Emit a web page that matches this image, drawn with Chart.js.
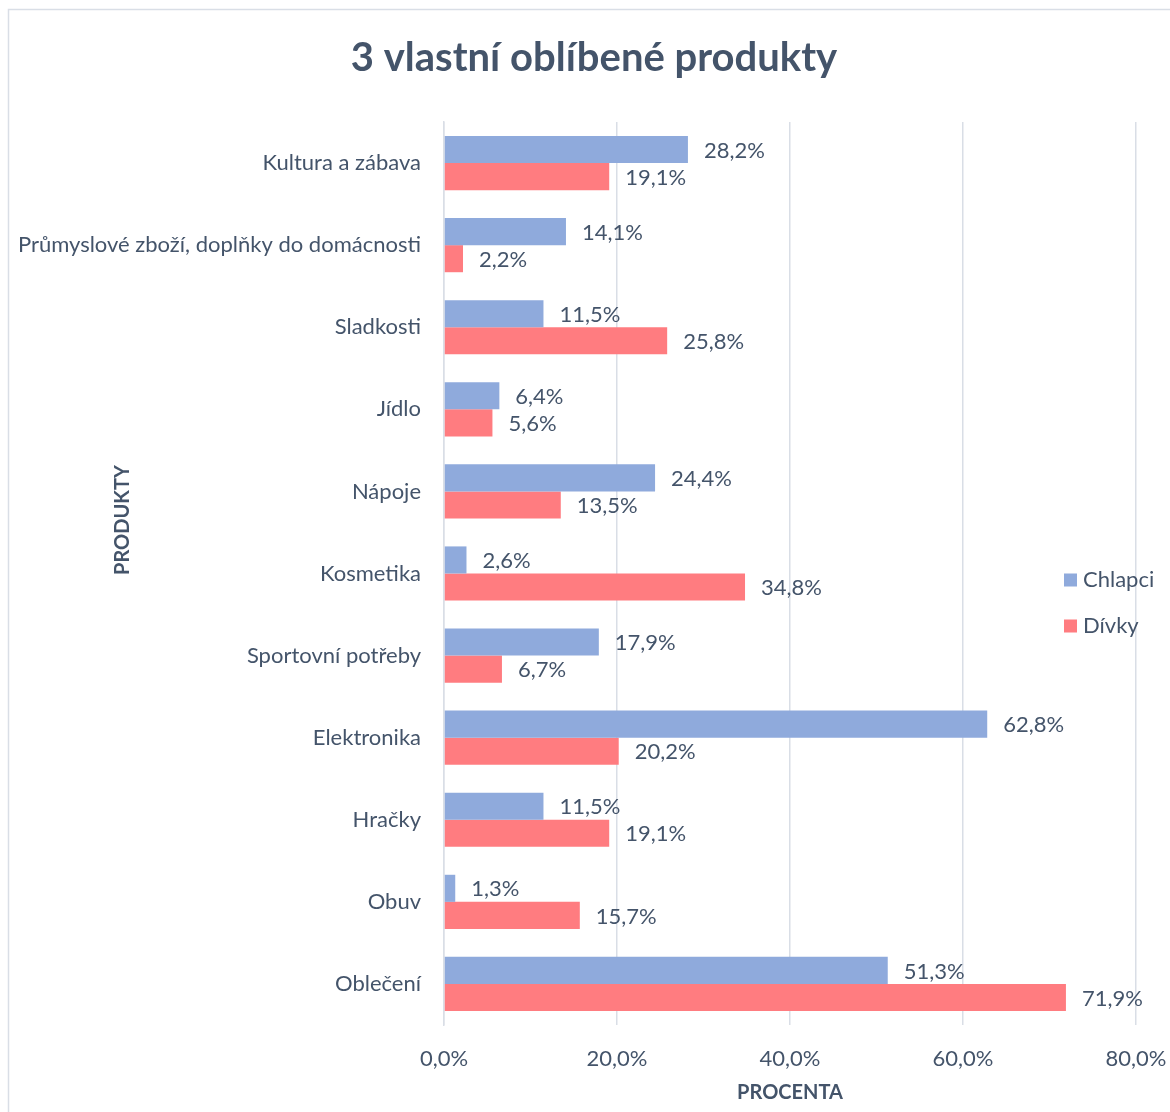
<!DOCTYPE html>
<html>
<head>
<meta charset="utf-8">
<title>3 vlastní oblíbené produkty</title>
<script src="https://cdn.jsdelivr.net/npm/chart.js@4/dist/chart.umd.min.js"></script>
<style>
  html, body { margin: 0; padding: 0; background: #fff; }
  #wrap { width: 1170px; height: 1112px; position: relative; }
</style>
</head>
<body>
<div id="wrap"><canvas id="chart" width="1170" height="1112"></canvas></div>
<script>
// data
const categories = [
  'Kultura a zábava',
  'Průmyslové zboží, doplňky do domácnosti',
  'Sladkosti',
  'Jídlo',
  'Nápoje',
  'Kosmetika',
  'Sportovní potřeby',
  'Elektronika',
  'Hračky',
  'Obuv',
  'Oblečení'
];
const chlapci = [28.2, 14.1, 11.5, 6.4, 24.4, 2.6, 17.9, 62.8, 11.5, 1.3, 51.3];
const divky   = [19.1, 2.2, 25.8, 5.6, 13.5, 34.8, 6.7, 20.2, 19.1, 15.7, 71.9];
const seriesNames = ['Chlapci', 'Dívky'];
const xTicks = [0, 20, 40, 60, 80];

const chartTitle = '3 vlastní oblíbené produkty';
const xTitle = 'PROCENTA';
const yTitle = 'PRODUKTY';

const FONT = 'Lato, "Open Sans", sans-serif';
const TEXT = '#44546a';
const GRID = '#d9dee6';

const fmt = v => v.toFixed(1).replace('.', ',') + '%';

// frame, value labels, y axis title, legend
const extras = {
  id: 'extras',
  beforeDraw(chart) {
    const ctx = chart.ctx;
    ctx.save();
    ctx.fillStyle = '#fff';
    ctx.fillRect(0, 0, chart.width, chart.height);
    ctx.strokeStyle = GRID;
    ctx.lineWidth = 1.5;
    ctx.strokeRect(8.5, 9.5, chart.width + 20, chart.height + 20);
    ctx.restore();
  },
  afterDatasetsDraw(chart) {
    const ctx = chart.ctx;
    ctx.save();
    ctx.font = '22px ' + FONT;
    ctx.fillStyle = TEXT;
    ctx.textAlign = 'left';
    ctx.textBaseline = 'middle';
    chart.data.datasets.forEach((ds, i) => {
      chart.getDatasetMeta(i).data.forEach((el, j) => {
        ctx.fillText(fmt(ds.data[j]), el.x + 16, el.y + 1);
      });
    });
    ctx.restore();
  },
  afterDraw(chart) {
    const ctx = chart.ctx;
    ctx.save();
    ctx.fillStyle = TEXT;
    ctx.font = 'bold 20px ' + FONT;
    ctx.textAlign = 'center';
    ctx.textBaseline = 'middle';
    ctx.translate(123, 520);
    ctx.rotate(-Math.PI / 2);
    ctx.fillText(yTitle, 0, 0);
    ctx.restore();

    // legend
    ctx.save();
    ctx.font = '22px ' + FONT;
    ctx.textAlign = 'left';
    ctx.textBaseline = 'middle';
    chart.data.datasets.forEach((ds, i) => {
      const cy = 580 + i * 46;
      ctx.fillStyle = ds.backgroundColor;
      ctx.fillRect(1064, cy - 6.5, 13, 13);
      ctx.fillStyle = TEXT;
      ctx.fillText(ds.label, 1083, cy);
    });
    ctx.restore();
  }
};

new Chart(document.getElementById('chart'), {
  type: 'bar',
  data: {
    labels: categories,
    datasets: [
      { label: seriesNames[0], data: chlapci, backgroundColor: '#8faadc' },
      { label: seriesNames[1], data: divky, backgroundColor: '#ff7c80' }
    ]
  },
  options: {
    indexAxis: 'y',
    responsive: false,
    animation: false,
    layout: { padding: { left: 18, right: 0, top: 0, bottom: 0 } },
    datasets: { bar: { barPercentage: 1, categoryPercentage: 0.66 } },
    plugins: {
      legend: { display: false },
      tooltip: { enabled: false },
      title: {
        display: true,
        text: chartTitle,
        color: TEXT,
        font: { family: FONT, size: 40, weight: 'bold', lineHeight: 1.2 },
        padding: { top: 34, bottom: 40 }
      }
    },
    scales: {
      x: {
        min: 0,
        max: 80,
        afterBuildTicks(scale) { scale.ticks = xTicks.map(v => ({ value: v })); },
        afterFit(scale) {
          scale.height = 87;
          scale.paddingLeft = 0;
          scale.paddingRight = 34;
        },
        grid: { color: GRID, lineWidth: 1.5, drawTicks: false },
        border: { display: false },
        title: {
          display: true,
          text: xTitle,
          color: TEXT,
          font: { family: FONT, size: 20, weight: 'bold', lineHeight: 1.2 },
          padding: { top: 0, bottom: 7 }
        },
        ticks: {
          padding: 21,
          color: TEXT,
          font: { family: FONT, size: 22 },
          callback: v => fmt(v)
        }
      },
      y: {
        afterFit(scale) { scale.width = 426; },
        grid: { display: false, drawTicks: false },
        border: { display: true, color: GRID, width: 1.5 },
        ticks: {
          padding: 23,
          color: TEXT,
          font: { family: FONT, size: 22 }
        }
      }
    }
  },
  plugins: [extras]
});
</script>
</body>
</html>
